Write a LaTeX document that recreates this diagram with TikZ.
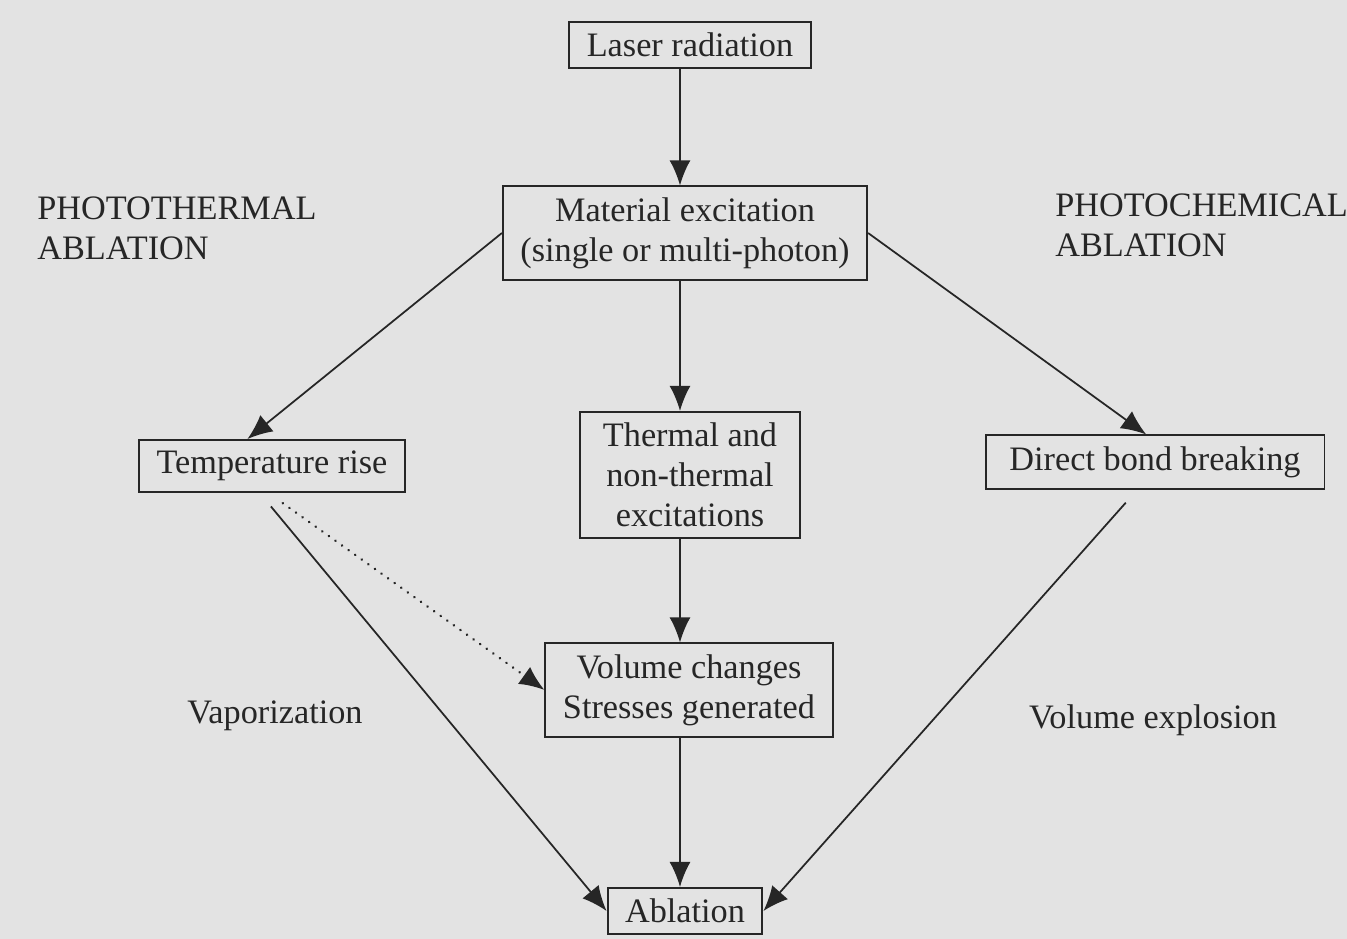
\documentclass[tikz,border=0pt]{standalone}
\usepackage{fontspec}
\setmainfont{Liberation Serif}
\usetikzlibrary{arrows.meta}

\tikzset{
  box/.style={draw=black!85, line width=1.1pt, align=center, text=black!85,
    inner xsep=0.35cm, inner ysep=0.22cm},
  lbl/.style={text=black!85, inner sep=0pt},
  flow/.style={draw=black!85, line width=1pt, -{Latex[length=5mm,width=4.2mm]}},
  dotflow/.style={flow, line width=1.5pt, line cap=round, dash pattern=on 0.1pt off 4.5pt}
}

\begin{document}
\begin{tikzpicture}[x=0.02cm,y=-0.02cm,font=\fontsize{19.5}{22.8}\selectfont]
  % background of the page
  \fill[black!11] (0,0) rectangle (1347,939);
  \useasboundingbox (0,0) rectangle (1347,939);

  % boxes
  \node[box] (laser) at (690,45) {Laser radiation};
  \node[box] (mat) at (685,233) {Material excitation\\(single or multi-photon)};
  \node[box] (temp) at (272,466) {Temperature rise};
  \node[box, minimum width=4.4cm] (therm) at (690,475) {Thermal and\\non-thermal\\excitations};
  \node[box, minimum width=6.78cm] (bond) at (1155,462) {Direct bond breaking};
  \node[box] (vol) at (689,690) {Volume changes\\Stresses generated};
  \node[box] (abl) at (685,911) {Ablation};
  \coordinate (axis) at (680,0);

  % side labels
  \node[lbl, align=left, anchor=west] (pth) at (37,228) {PHOTOTHERMAL\\ABLATION};
  \node[lbl, align=left, anchor=west] (pch) at (1055,225) {PHOTOCHEMICAL\\ABLATION};
  \node[lbl] (vap) at (275,716) {Vaporization};
  \node[lbl] (vex) at (1153,720) {Volume explosion};

  % arrows
  \draw[flow] (laser.south -| axis) -- (mat.north -| axis);
  \draw[flow] (mat.west) -- ([xshift=-14]temp.north);
  \draw[flow] (mat.east) -- ([xshift=-5]bond.north);
  \draw[flow] (mat.south -| axis) -- (therm.north -| axis);
  \draw[flow] (therm.south -| axis) -- (vol.north -| axis);
  \draw[flow] (vol.south -| axis) -- (abl.north -| axis);
  \draw[flow, shorten <=10] ([xshift=-7]temp.south) -- (abl.west);
  \draw[dotflow, shorten <=10] ([xshift=-2]temp.south) -- (vol.west);
  \draw[flow, shorten <=10] ([xshift=-10]bond.south) -- (abl.east);
\end{tikzpicture}
\end{document}
